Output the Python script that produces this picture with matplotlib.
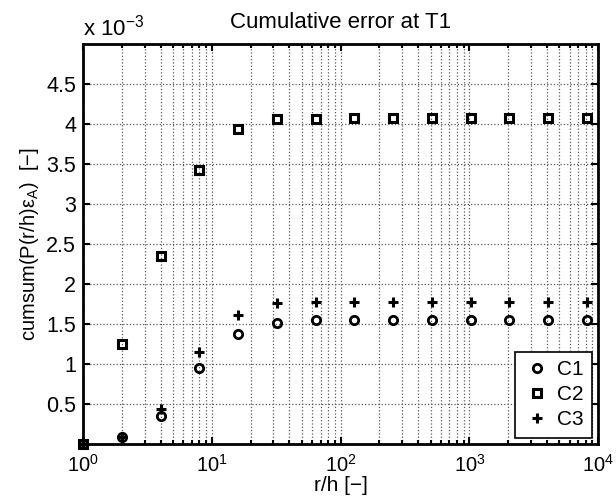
import matplotlib
matplotlib.use("Agg")
import matplotlib.pyplot as plt
from matplotlib.ticker import LogLocator, NullFormatter

plt.rcParams["font.family"] = ["Liberation Sans", "DejaVu Sans"]
plt.rcParams["mathtext.fontset"] = "custom"
plt.rcParams["mathtext.rm"] = "Liberation Sans"
plt.rcParams["mathtext.it"] = "Liberation Sans:italic"

# -----------------------------
# Data (values in units of 1e-3)
# -----------------------------
r_over_h = [1, 2, 4, 8, 16, 32, 64, 128, 256, 512, 1024, 2048, 4096, 8192]
c1 = [0.0, 0.085, 0.35, 0.95, 1.38, 1.52, 1.55, 1.55, 1.55, 1.55, 1.55, 1.55, 1.55, 1.55]
c2 = [0.0, 1.25, 2.35, 3.43, 3.94, 4.06, 4.07, 4.08, 4.08, 4.08, 4.08, 4.08, 4.08, 4.08]
c3 = [0.0, 0.09, 0.44, 1.15, 1.61, 1.76, 1.78, 1.78, 1.78, 1.78, 1.78, 1.78, 1.78, 1.78]
labels = ["C1", "C2", "C3"]
yticks = [0.5, 1, 1.5, 2, 2.5, 3, 3.5, 4, 4.5]

fig = plt.figure(figsize=(6.16, 5.04), dpi=100)
ax = fig.add_axes([0.135, 0.119, 0.836, 0.793])

ax.plot(r_over_h, c1, "o", ms=6, mfc="none", mec="black", mew=2, label=labels[0], clip_on=False)
ax.plot(r_over_h, c2, "s", ms=5.5, mfc="none", mec="black", mew=2.2, label=labels[1], clip_on=False)
ax.plot(r_over_h, c3, "+", ms=7, mec="black", mew=2.2, label=labels[2], clip_on=False)

ax.set_xscale("log")
ax.set_xlim(1, 1e4)
ax.set_ylim(0, 5)
ax.set_yticks(yticks)
ax.set_yticklabels([f"{t:g}" for t in yticks])
ax.xaxis.set_minor_locator(LogLocator(base=10, subs=range(2, 10), numticks=20))
ax.xaxis.set_minor_formatter(NullFormatter())

ax.grid(True, which="major", axis="both", linestyle=":", color="0.35", linewidth=0.9)
ax.grid(True, which="minor", axis="x", linestyle=":", color="0.35", linewidth=0.9)
ax.set_axisbelow(True)

ax.tick_params(which="both", direction="in", top=True, right=True, width=1.5)
ax.tick_params(axis="y", which="major", length=5, pad=5, labelsize=15.5)
ax.tick_params(axis="x", which="major", length=5, pad=7, labelsize=14.5)
ax.tick_params(which="minor", length=3)
for s in ax.spines.values():
    s.set_linewidth(2)

ax.set_title("Cumulative error at T1", fontsize=16, pad=12)
ax.set_xlabel("r/h [\u2212]", fontsize=15, labelpad=0)
ax.set_ylabel("cumsum(P(r/h)\u03b5$_\\mathrm{A}$)  [\u2212]", fontsize=14.5, labelpad=4)
ax.text(0, 1.01, "x 10$^{-3}$", transform=ax.transAxes, fontsize=16, ha="left", va="bottom")

leg = ax.legend(loc="lower right", fontsize=15, fancybox=False, framealpha=1,
                edgecolor="black", handletextpad=0.3, borderaxespad=0.3,
                handlelength=1.3, labelspacing=0.3, borderpad=0.4)
leg.get_frame().set_linewidth(1.2)

fig.savefig("out.png", dpi=100)
plt.close()
